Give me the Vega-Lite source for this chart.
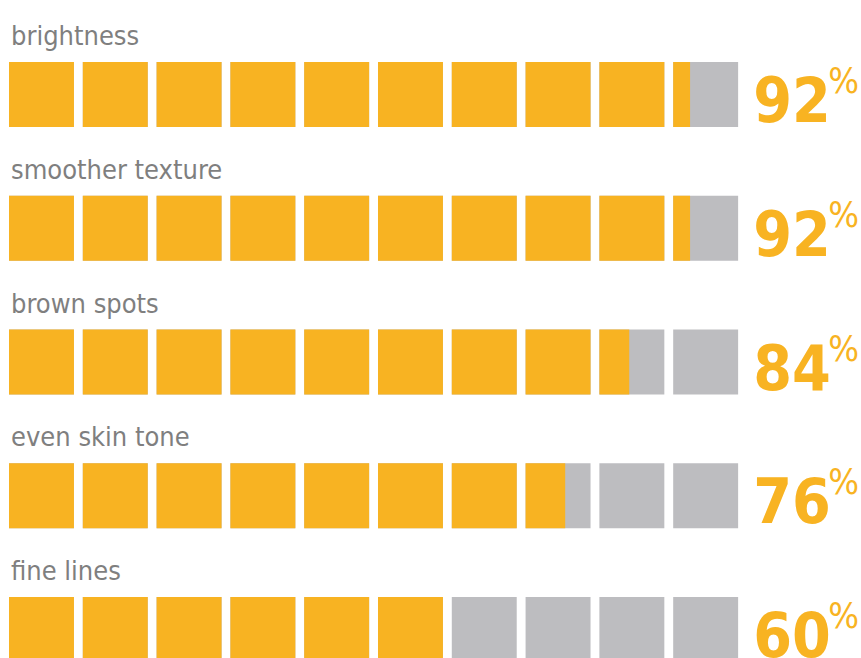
{
  "$schema": "https://vega.github.io/schema/vega-lite/v6.json",
  "width": 861,
  "height": 658,
  "padding": 0,
  "autosize": {"type": "none"},
  "background": "#ffffff",
  "config": {"view": {"stroke": null}},
  "datasets": {
    "cells": [
      {"item": "brightness", "seg": 1, "fill": 1}, {"item": "brightness", "seg": 2, "fill": 1}, {"item": "brightness", "seg": 3, "fill": 1}, {"item": "brightness", "seg": 4, "fill": 1}, {"item": "brightness", "seg": 5, "fill": 1}, {"item": "brightness", "seg": 6, "fill": 1}, {"item": "brightness", "seg": 7, "fill": 1}, {"item": "brightness", "seg": 8, "fill": 1}, {"item": "brightness", "seg": 9, "fill": 1}, {"item": "brightness", "seg": 10, "fill": 0.26},
      {"item": "smoother texture", "seg": 1, "fill": 1}, {"item": "smoother texture", "seg": 2, "fill": 1}, {"item": "smoother texture", "seg": 3, "fill": 1}, {"item": "smoother texture", "seg": 4, "fill": 1}, {"item": "smoother texture", "seg": 5, "fill": 1}, {"item": "smoother texture", "seg": 6, "fill": 1}, {"item": "smoother texture", "seg": 7, "fill": 1}, {"item": "smoother texture", "seg": 8, "fill": 1}, {"item": "smoother texture", "seg": 9, "fill": 1}, {"item": "smoother texture", "seg": 10, "fill": 0.26},
      {"item": "brown spots", "seg": 1, "fill": 1}, {"item": "brown spots", "seg": 2, "fill": 1}, {"item": "brown spots", "seg": 3, "fill": 1}, {"item": "brown spots", "seg": 4, "fill": 1}, {"item": "brown spots", "seg": 5, "fill": 1}, {"item": "brown spots", "seg": 6, "fill": 1}, {"item": "brown spots", "seg": 7, "fill": 1}, {"item": "brown spots", "seg": 8, "fill": 1}, {"item": "brown spots", "seg": 9, "fill": 0.46}, {"item": "brown spots", "seg": 10, "fill": 0},
      {"item": "even skin tone", "seg": 1, "fill": 1}, {"item": "even skin tone", "seg": 2, "fill": 1}, {"item": "even skin tone", "seg": 3, "fill": 1}, {"item": "even skin tone", "seg": 4, "fill": 1}, {"item": "even skin tone", "seg": 5, "fill": 1}, {"item": "even skin tone", "seg": 6, "fill": 1}, {"item": "even skin tone", "seg": 7, "fill": 1}, {"item": "even skin tone", "seg": 8, "fill": 0.61}, {"item": "even skin tone", "seg": 9, "fill": 0}, {"item": "even skin tone", "seg": 10, "fill": 0},
      {"item": "fine lines", "seg": 1, "fill": 1}, {"item": "fine lines", "seg": 2, "fill": 1}, {"item": "fine lines", "seg": 3, "fill": 1}, {"item": "fine lines", "seg": 4, "fill": 1}, {"item": "fine lines", "seg": 5, "fill": 1}, {"item": "fine lines", "seg": 6, "fill": 1}, {"item": "fine lines", "seg": 7, "fill": 0}, {"item": "fine lines", "seg": 8, "fill": 0}, {"item": "fine lines", "seg": 9, "fill": 0}, {"item": "fine lines", "seg": 10, "fill": 0}
    ],
    "items": [
      {"item": "brightness", "pct": 92},
      {"item": "smoother texture", "pct": 92},
      {"item": "brown spots", "pct": 84},
      {"item": "even skin tone", "pct": 76},
      {"item": "fine lines", "pct": 60}
    ]
  },
  "encoding": {
    "y": {
      "field": "item",
      "type": "nominal",
      "axis": null,
      "scale": {
        "domain": ["brightness", "smoother texture", "brown spots", "even skin tone", "fine lines"],
        "range": [0, 724],
        "paddingInner": 0.514,
        "paddingOuter": 0.4637
      }
    }
  },
  "layer": [
    {
      "data": {"name": "cells"},
      "transform": [
        {"calculate": "datum.seg - 1", "as": "x0"},
        {"calculate": "datum.seg - 1 + 0.88", "as": "x1"}
      ],
      "mark": {"type": "bar", "color": "#bdbdc0", "clip": true},
      "encoding": {
        "x": {"field": "x0", "type": "quantitative", "axis": null, "scale": {"domain": [-0.122, 11.545], "nice": false, "zero": false}},
        "x2": {"field": "x1"}
      }
    },
    {
      "data": {"name": "cells"},
      "transform": [
        {"filter": "datum.fill > 0"},
        {"calculate": "datum.seg - 1", "as": "x0"},
        {"calculate": "datum.seg - 1 + 0.88 * datum.fill", "as": "x1"}
      ],
      "mark": {"type": "bar", "color": "#f8b322", "clip": true},
      "encoding": {
        "x": {"field": "x0", "type": "quantitative"},
        "x2": {"field": "x1"}
      }
    },
    {
      "data": {"name": "items"},
      "mark": {"type": "text", "align": "left", "baseline": "alphabetic", "dx": 2, "dy": -17, "font": "DejaVu Sans Condensed, DejaVu Sans", "fontSize": 27, "color": "#7f7f7f"},
      "encoding": {
        "x": {"datum": 0, "type": "quantitative"},
        "y": {"field": "item", "type": "nominal", "bandPosition": 0},
        "text": {"field": "item"}
      }
    },
    {
      "data": {"name": "items"},
      "mark": {"type": "text", "align": "left", "baseline": "alphabetic", "dx": 15, "dy": 60, "font": "DejaVu Sans Condensed, DejaVu Sans", "fontWeight": "bold", "fontSize": 62, "color": "#f8b322"},
      "encoding": {
        "x": {"datum": 9.88, "type": "quantitative"},
        "y": {"field": "item", "type": "nominal", "bandPosition": 0},
        "text": {"field": "pct"}
      }
    },
    {
      "data": {"name": "items"},
      "mark": {"type": "text", "align": "left", "baseline": "alphabetic", "dx": 90, "dy": 31, "font": "DejaVu Sans Condensed, DejaVu Sans", "fontSize": 36, "color": "#f8b322"},
      "encoding": {
        "x": {"datum": 9.88, "type": "quantitative"},
        "y": {"field": "item", "type": "nominal", "bandPosition": 0},
        "text": {"value": "%"}
      }
    }
  ]
}
